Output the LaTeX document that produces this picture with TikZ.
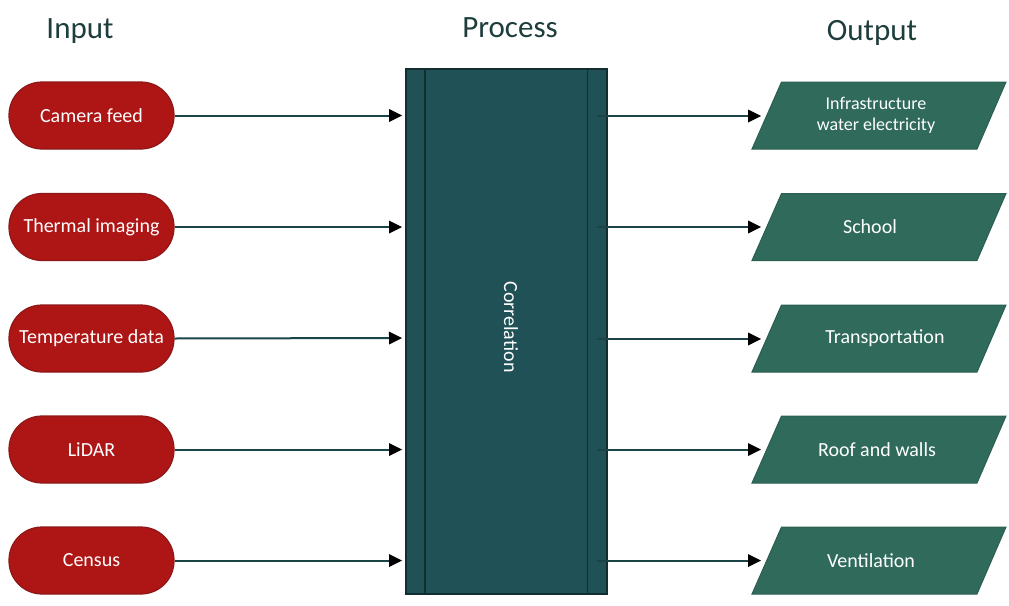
\documentclass[tikz,border=0pt]{standalone}
\usepackage{fontspec}
\setmainfont{Carlito}
\usetikzlibrary{arrows.meta}
\definecolor{pillred}{HTML}{AE1515}
\definecolor{pillborder}{HTML}{8E1818}
\definecolor{procfill}{HTML}{1F5156}
\definecolor{procdark}{HTML}{122E2E}
\definecolor{outfill}{HTML}{2F6A5B}
\definecolor{outborder}{HTML}{2A5F51}
\definecolor{headcol}{HTML}{1E3D3D}
\definecolor{arrowcol}{HTML}{1A4446}
\tikzset{
  pill/.style={rectangle, rounded corners=33pt, fill=pillred, draw=pillborder, line width=1.2pt,
    minimum width=165pt, minimum height=67pt, inner sep=0pt, text=white,
    font=\fontsize{20}{24}\selectfont},
  heading/.style={text=headcol, font=\fontsize{31}{36}\selectfont, inner sep=0pt},
  procbox/.style={rectangle, fill=procfill, draw=procdark, line width=1.5pt,
    minimum width=201pt, minimum height=525pt, inner sep=0pt},
  procline/.style={draw=procdark, line width=1.5pt},
  outshape/.style={fill=outfill, draw=outborder, line width=1pt},
  outtext/.style={text=white, font=\fontsize{20}{24}\selectfont, inner sep=0pt, align=center},
  conn/.style={draw=arrowcol, line width=2pt, -{Triangle[length=13pt,width=13pt,fill=black,line width=0pt]}},
}
\begin{document}
\begin{tikzpicture}[x=1pt,y=-1pt]
\useasboundingbox (0,0) rectangle (1009,605);
% headings
\node[heading] (hin) at (80,31) {Input};
\node[heading] (hproc) at (510,28) {Process};
\node[heading] (hout) at (872,32.5) {Output};
% process box
\node[procbox] (proc) at (506.3,331.6) {};
\draw[procline] ([xshift=20pt]proc.north west) -- ([xshift=20pt]proc.south west);
\draw[procline] ([xshift=-20pt]proc.north east) -- ([xshift=-20pt]proc.south east);
\node[text=white, font=\fontsize{20}{24}\selectfont, rotate=-90, inner sep=0pt] (corr) at (511,327) {Correlation};
% inputs
\node[pill] (in1) at (91.5,115.5) {Camera feed};
\node[pill] (in2) at (91.5,227) {Thermal imaging};
\node[pill] (in3) at (91.5,338.5) {Temperature data};
\node[pill] (in4) at (91.5,449.5) {LiDAR};
\node[pill] (in5) at (91.5,560.5) {Census};
% input arrow ends
\coordinate (pi1) at (402,115.5);
\coordinate (pi2) at (402,227);
\coordinate (pi3) at (402,338);
\coordinate (pi4) at (402,449.5);
\coordinate (pi5) at (402,560.5);
\draw[conn] (in1.east) -- (pi1);
\draw[conn] (in2.east) -- (pi2);
\draw[conn] (in3.east) -- (pi3);
\draw[conn] (in4.east) -- (pi4);
\draw[conn] (in5.east) -- (pi5);
% outputs
\foreach \yc in {115.5,227,338.5,449.5,560.5}{
  \fill[outshape] (752,\yc+33.5) -- (781.5,\yc-33.5) -- (1006,\yc-33.5) -- (977,\yc+33.5) -- cycle;
}
\node[outtext, font=\fontsize{18}{22}\selectfont] (out1) at (876,115.5) {Infrastructure\\[-1pt]water electricity};
\node[outtext] (out2) at (870,227) {School};
\node[outtext] (out3) at (885,338.5) {Transportation};
\node[outtext] (out4) at (877,449.5) {Roof and walls};
\node[outtext] (out5) at (871,560.5) {Ventilation};
% output arrows
\coordinate (ps1) at (597,116);
\coordinate (ps2) at (597,227);
\coordinate (ps3) at (597,339);
\coordinate (ps4) at (597,449.5);
\coordinate (ps5) at (597,560.5);
\coordinate (po1) at (761,116);
\coordinate (po2) at (761,227);
\coordinate (po3) at (761,339);
\coordinate (po4) at (761,449.5);
\coordinate (po5) at (761,560.5);
\draw[conn] (ps1) -- (po1);
\draw[conn] (ps2) -- (po2);
\draw[conn] (ps3) -- (po3);
\draw[conn] (ps4) -- (po4);
\draw[conn] (ps5) -- (po5);
\end{tikzpicture}
\end{document}
